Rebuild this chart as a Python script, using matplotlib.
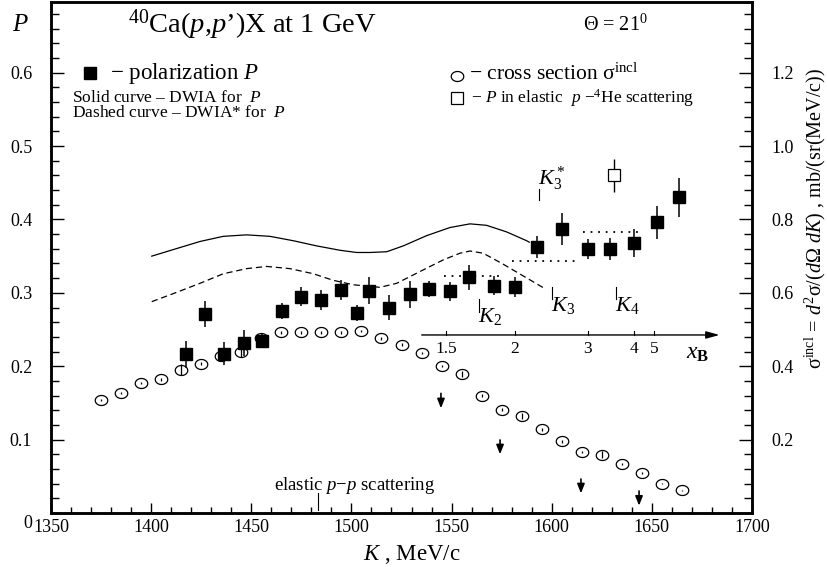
import numpy as np
import matplotlib
matplotlib.use("Agg")
import matplotlib.pyplot as plt
from matplotlib.path import Path
from matplotlib.ticker import MultipleLocator, FuncFormatter

plt.rcParams['font.family'] = ['Liberation Serif', 'DejaVu Serif']
plt.rcParams['mathtext.fontset'] = 'custom'
plt.rcParams['mathtext.rm'] = 'Liberation Serif'
plt.rcParams['mathtext.it'] = 'Liberation Serif:italic'
plt.rcParams['mathtext.bf'] = 'Liberation Serif:bold'

# ---------- data ----------
# polarization P (filled squares), left axis
pol_k = [1417.2, 1426.9, 1436.5, 1446.5, 1455.2, 1465.2, 1474.8, 1484.8, 1494.8, 1502.6,
         1508.8, 1518.7, 1529.2, 1538.7, 1549.0, 1558.8, 1571.2, 1581.6, 1592.8, 1605.0,
         1618.3, 1629.3, 1641.3, 1652.5, 1663.8]
pol_p = [0.216, 0.271, 0.217, 0.232, 0.235, 0.275, 0.295, 0.290, 0.304, 0.273,
         0.303, 0.280, 0.298, 0.305, 0.302, 0.321, 0.310, 0.308, 0.363, 0.387,
         0.360, 0.360, 0.368, 0.396, 0.430]
pol_err = [0.018, 0.018, 0.016, 0.018, 0.010, 0.011, 0.013, 0.014, 0.014, 0.011,
           0.018, 0.017, 0.018, 0.011, 0.013, 0.017, 0.013, 0.013, 0.015, 0.022,
           0.014, 0.015, 0.019, 0.022, 0.026]

# P in elastic p-4He scattering (open square)
he_k = [1631.0]
he_p = [0.460]
he_err = [0.023]

# inclusive cross section (open circles), right axis
cs_k = [1375, 1385, 1395, 1405, 1415, 1425, 1435, 1445, 1455, 1465,
        1475, 1485, 1495, 1505, 1515, 1525, 1535, 1545, 1555, 1565,
        1575, 1585, 1595, 1605, 1615, 1625, 1635, 1645, 1655, 1665]
cs_val = [0.307, 0.327, 0.354, 0.364, 0.391, 0.407, 0.428, 0.438, 0.476, 0.492,
          0.492, 0.492, 0.492, 0.496, 0.476, 0.458, 0.436, 0.401, 0.380, 0.320,
          0.282, 0.265, 0.228, 0.195, 0.166, 0.159, 0.133, 0.109, 0.080, 0.062]
cs_err = [0.003, 0.003, 0.003, 0.003, 0.014, 0.004, 0.011, 0.013, 0.003, 0.004,
          0.004, 0.004, 0.004, 0.004, 0.004, 0.004, 0.004, 0.003, 0.008, 0.003,
          0.003, 0.008, 0.005, 0.003, 0.003, 0.010, 0.003, 0.003, 0.002, 0.002]

# DWIA (solid) and DWIA* (dashed) curves
dwia_k = [1400.3, 1411.1, 1424.4, 1436.0, 1447.7, 1459.3, 1471.0, 1482.6, 1494.3, 1502.6,
          1509.3, 1517.6, 1525.9, 1537.6, 1549.2, 1559.2, 1567.5, 1577.5, 1587.5, 1588.8]
dwia_p = [0.350, 0.359, 0.370, 0.377, 0.379, 0.377, 0.371, 0.364, 0.358, 0.355,
          0.355, 0.356, 0.364, 0.378, 0.389, 0.394, 0.392, 0.383, 0.371, 0.369]
dwias_k = [1400.3, 1411.1, 1424.4, 1436.0, 1447.7, 1457.7, 1469.3, 1481.0, 1491.0, 1501.0,
           1514.3, 1522.6, 1534.2, 1545.9, 1554.2, 1559.2, 1565.8, 1575.8, 1585.8, 1595.8]
dwias_p = [0.288, 0.299, 0.313, 0.326, 0.333, 0.336, 0.333, 0.326, 0.317, 0.311,
           0.3075, 0.313, 0.329, 0.345, 0.354, 0.357, 0.354, 0.339, 0.323, 0.307]

# dotted K-ranges
range_k0 = [1546.0, 1580.0, 1615.4]
range_k1 = [1574.5, 1611.6, 1644.0]
range_p = [0.3226, 0.3433, 0.3824]

# K markers: label, K, line bottom, line top, label y
kmark_lbl = [r'$K_3^*$', r'$K_2$', r'$K_3$', r'$K_4$']
kmark_k = [1593.8, 1563.9, 1600.3, 1632.0]
kmark_lo = [0.426, 0.274, 0.2915, 0.2915]
kmark_hi = [0.442, 0.291, 0.308, 0.308]
kmark_ty = [0.455, 0.2675, 0.283, 0.283]

# down arrows
arrow_k = [1544.7, 1574.2, 1614.6, 1643.6]
arrow_top = [0.163, 0.0995, 0.0463, 0.030]
arrow_tip = [0.1427, 0.080, 0.0268, 0.010]

# x_B scale
xb_lbl = ['1.5', '2', '3', '4', '5']
xb_k = [1547.2, 1581.6, 1618.1, 1641.1, 1651.1]
xb_line = (1535.1, 1683.8)
xb_p = 0.2426

# ---------- figure ----------
fig = plt.figure(figsize=(8.28, 5.67), dpi=100)
ax = fig.add_axes([51/828, 1 - 513/567, 701/828, 511.5/567])
ax2 = ax.twinx()

ax.set_xlim(1350, 1700)
ax.set_ylim(0, 0.697)
ax2.set_ylim(0, 1.394)

for a in (ax, ax2):
    for s in a.spines.values():
        s.set_linewidth(1.8)

ax.xaxis.set_major_locator(MultipleLocator(50))
ax.xaxis.set_minor_locator(MultipleLocator(10))
ax.yaxis.set_major_locator(MultipleLocator(0.1))
ax.yaxis.set_minor_locator(MultipleLocator(0.02))
ax.yaxis.set_major_formatter(FuncFormatter(lambda v, p: '' if abs(v) < 1e-9 else f'{v:.1f}'))
ax.tick_params(axis='x', which='major', direction='in', length=7.2, width=1.0, labelsize=13, pad=4)
ax.tick_params(axis='x', which='minor', direction='in', length=4.3, width=1.0)
ax.tick_params(axis='y', which='major', direction='in', length=9.4, width=1.0, labelsize=13, pad=13.5)
ax.tick_params(axis='y', which='minor', direction='in', length=5.8, width=1.0)
ax.tick_params(top=False, right=False, which='both')

ax2.set_yticks([0.2, 0.4, 0.6, 0.8, 1.0, 1.2])
ax2.yaxis.set_minor_locator(MultipleLocator(0.04))
ax2.yaxis.set_major_formatter(FuncFormatter(lambda v, p: f'{v:.1f}'))
ax2.tick_params(axis='y', which='major', direction='in', length=9.4, width=1.0, labelsize=13, pad=14)
ax2.tick_params(axis='y', which='minor', direction='in', length=5.8, width=1.0)

ax.annotate('0', xy=(0, 0), xycoords='axes fraction', xytext=(-23, -10),
            textcoords='offset pixels', ha='center', va='center', fontsize=13)

# ellipse marker for the cross section points
t = np.linspace(0, 2*np.pi, 60)
ellipse = Path(np.column_stack([np.cos(t), 0.8*np.sin(t)]), closed=True)

ax2.errorbar(cs_k, cs_val, yerr=cs_err, fmt='none', ecolor='k', elinewidth=0.9, capsize=0)
ax2.plot(cs_k, cs_val, ls='none', marker=ellipse, ms=9, mfc='none', mec='k', mew=0.9)

# curves
ax.plot(dwia_k, dwia_p, color='k', lw=0.9)
ax.plot(dwias_k, dwias_p, color='k', lw=0.9, dashes=(5, 3))

# polarization
ax.errorbar(pol_k, pol_p, yerr=pol_err, fmt='s', ms=8.8, mfc='k', mec='k',
            ecolor='k', elinewidth=1.1, capsize=0, zorder=5)
ax.errorbar(he_k, he_p, yerr=he_err, fmt='s', ms=8.4, mfc='white', mec='k', mew=0.9,
            ecolor='k', elinewidth=1.0, capsize=0, zorder=5)

for k0, k1, p in zip(range_k0, range_k1, range_p):
    ax.plot([k0, k1], [p, p], color='k', lw=1.3, dashes=(1, 3.2))

for lbl, k, lo, hi, ty in zip(kmark_lbl, kmark_k, kmark_lo, kmark_hi, kmark_ty):
    ax.plot([k, k], [lo, hi], color='k', lw=0.8)
    ax.text(k - 0.5, ty, lbl, fontsize=16, ha='left', va='center')

for k, p0, p1 in zip(arrow_k, arrow_top, arrow_tip):
    ax.annotate('', xy=(k, p1), xytext=(k, p0),
                arrowprops=dict(arrowstyle='-|>,head_length=0.55,head_width=0.22',
                                color='k', lw=1.2, shrinkA=0, shrinkB=0))

# x_B scale
ax.annotate('', xy=(xb_line[1], xb_p), xytext=(xb_line[0], xb_p),
            arrowprops=dict(arrowstyle='-|>,head_length=0.8,head_width=0.22',
                            color='k', lw=1.0, shrinkA=0, shrinkB=0))
for lbl, k in zip(xb_lbl, xb_k):
    ax.plot([k, k], [xb_p, xb_p + 0.005], color='k', lw=0.8)
    ax.text(k, 0.223, lbl, fontsize=12.5, ha='center', va='center')
ax.text(1673, 0.218, r'$x_{\mathbf{B}}$', fontsize=17, ha='center', va='center')

# elastic p-p
ax.plot([1483.1, 1483.1], [0.004, 0.027], color='k', lw=0.8)
ax.text(1501.5, 0.038, r'elastic $p{-}p$ scattering', fontsize=13.5, ha='center', va='center')

# legend-like texts
ax.plot([1369.5], [0.600], marker='s', ms=8.8, color='k', ls='none')
ax.text(1379.5, 0.5995, r'$-$ polarization $P$', fontsize=16.5, ha='left', va='center')
ax.text(1360.5, 0.566, r'Solid curve – DWIA for  $P$', fontsize=12.5, ha='left', va='center')
ax.text(1360.5, 0.545, r'Dashed curve – DWIA* for  $P$', fontsize=12.5, ha='left', va='center')
ax.plot([1552.5], [0.596], ls='none', marker=ellipse, ms=9, mfc='none', mec='k', mew=0.9)
ax.text(1558.5, 0.598, r'$-$ cross section σ$^{\mathrm{incl}}$', fontsize=15.5, ha='left', va='center')
ax.plot([1552.5], [0.566], ls='none', marker='s', ms=8.4, mfc='white', mec='k', mew=0.9)
ax.text(1559.5, 0.565, r'$-$ $P$ in elastic  $p$ $-$$^{4}$He scattering', fontsize=12.5,
        ha='left', va='center')

ax.text(1388.4, 0.665, r'$^{40}$Ca($p$,$p$’)X at 1 GeV', fontsize=20.5, ha='left', va='center')
ax.text(1615.6, 0.665, r'Θ = 21$^0$', fontsize=14.5, ha='left', va='center')

fig.text(20/828, 1 - 25/567, r'$P$', fontsize=18, ha='center', va='center')
fig.text(412/828, 1 - 555/567, r'$K$ , MeV/c', fontsize=16.5, ha='center', va='center')
fig.text(815/828, 1 - 218/567,
         r'σ$^{\mathrm{incl}}$ = $d^2$σ/($d$Ω $dK$) , mb/(sr(MeV/c))',
         fontsize=14.5, rotation=90, ha='center', va='center')

fig.savefig('out.png', dpi=100)
